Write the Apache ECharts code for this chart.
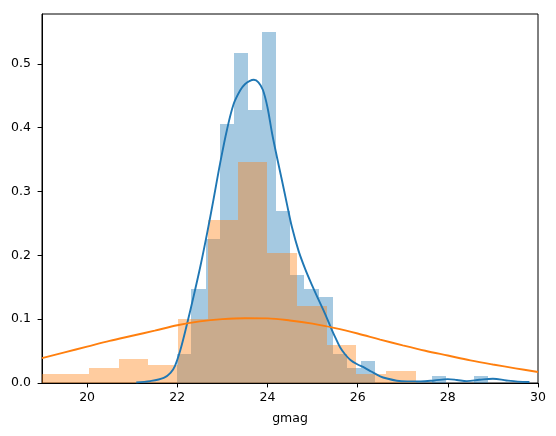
<!DOCTYPE html>
<html>
<head>
<meta charset="utf-8">
<script src="https://cdn.jsdelivr.net/npm/echarts@6/dist/echarts.min.js"></script>
<style>
  html, body { margin: 0; padding: 0; background: #fff; }
  #chart { width: 556px; height: 436px; }
</style>
</head>
<body>
<div id="chart"></div>
<script>
// blue histogram (bin edges + density per bin)
var blueEdges = [22.00, 22.31, 22.63, 22.94, 23.25, 23.57, 23.88, 24.20, 24.51, 24.82, 25.14, 25.45,
                 25.76, 26.08, 26.39, 26.70, 27.02, 27.33, 27.65, 27.96, 28.27, 28.59, 28.90];
var blueHeights = [0.046, 0.147, 0.225, 0.405, 0.517, 0.427, 0.550, 0.270, 0.169, 0.147, 0.135,
                   0.0455, 0.024, 0.035, 0, 0, 0, 0, 0.011, 0, 0, 0.011];

// orange histogram
var orangeEdges = [18.73, 19.39, 20.05, 20.71, 21.36, 22.02, 22.68, 23.34, 24.00, 24.66, 25.32,
                   25.97, 26.63, 27.29];
var orangeHeights = [0.0145, 0.0145, 0.024, 0.038, 0.0286, 0.100, 0.255, 0.346, 0.203, 0.120,
                     0.0588, 0.0145, 0.0192];

// blue kde curve
var blueKdeX = [21.09, 21.40, 21.70, 21.85, 21.95, 22.07, 22.215, 22.36, 22.51, 22.66, 22.80, 22.95,
                23.10, 23.25, 23.40, 23.50, 23.60, 23.70, 23.80, 23.90, 24.00, 24.10, 24.21, 24.32,
                24.43, 24.54, 24.69, 24.84, 24.99, 25.13, 25.28, 25.43, 25.52, 25.61, 25.72, 25.84,
                26.00, 26.15, 26.30, 26.50, 26.65, 26.87, 27.10, 27.40, 27.70, 28.00, 28.20, 28.42,
                28.70, 29.00, 29.30, 29.55, 29.81];
var blueKdeY = [0.001, 0.003, 0.008, 0.016, 0.027, 0.052, 0.092, 0.135, 0.182, 0.234, 0.286, 0.344,
                0.396, 0.437, 0.459, 0.468, 0.473, 0.475, 0.471, 0.459, 0.432, 0.392, 0.354, 0.318,
                0.281, 0.245, 0.207, 0.178, 0.153, 0.131, 0.108, 0.083, 0.069, 0.056, 0.045, 0.036,
                0.029, 0.024, 0.018, 0.0105, 0.007, 0.0036, 0.0026, 0.0025, 0.004, 0.006, 0.0048, 0.003,
                0.005, 0.0067, 0.004, 0.0022, 0.0016];

// orange fitted curve
var orangeFitX = [19.0, 19.5, 20.0, 20.5, 21.0, 21.5, 22.0, 22.5, 23.0, 23.5, 24.0, 24.5, 25.0,
                  25.5, 26.0, 26.5, 27.0, 27.5, 28.0, 28.5, 29.0, 29.5, 30.0];
var orangeFitY = [0.039, 0.048, 0.057, 0.066, 0.074, 0.082, 0.0905, 0.0965, 0.1, 0.1015, 0.1012,
                  0.098, 0.093, 0.086, 0.0775, 0.068, 0.059, 0.0505, 0.043, 0.0355, 0.029, 0.023, 0.0172];

var xTicks = [20, 22, 24, 26, 28, 30];
var yTicks = [0, 0.1, 0.2, 0.3, 0.4, 0.5];

function histData(edges, heights) {
  var out = [];
  for (var i = 0; i < heights.length; i++) {
    out.push([edges[i], edges[i + 1], heights[i]]);
  }
  return out;
}

function pairs(xs, ys) {
  return xs.map(function (x, i) { return [x, ys[i]]; });
}

function histRender(fill) {
  return function (params, api) {
    var p0 = api.coord([api.value(0), api.value(2)]);
    var p1 = api.coord([api.value(1), 0]);
    var x0 = Math.round(p0[0]), x1 = Math.round(p1[0]);
    var y0 = Math.round(p0[1]), y1 = Math.round(p1[1]);
    var rect = echarts.graphic.clipRectByRect(
      { x: x0, y: y0, width: x1 - x0, height: y1 - y0 },
      { x: params.coordSys.x, y: params.coordSys.y, width: params.coordSys.width, height: params.coordSys.height }
    );
    return rect && { type: 'rect', shape: rect, style: { fill: fill } };
  };
}

var font = 'DejaVu Sans';
var chart = echarts.init(document.getElementById('chart'), null, { renderer: 'canvas' });

chart.setOption({
  animation: false,
  grid: {
    left: 42, right: 18, top: 14, bottom: 53,
    show: true, borderColor: '#000', borderWidth: 1
  },
  xAxis: {
    type: 'value',
    min: 19, max: 30,
    name: 'gmag',
    nameLocation: 'middle',
    nameGap: 29,
    nameTextStyle: { fontFamily: font, fontSize: 12.5, color: '#000' },
    axisLine: { show: true, lineStyle: { color: '#000', width: 1 } },
    axisTick: { show: true, inside: false, length: 4.4, lineStyle: { color: '#000' }, customValues: xTicks },
    axisLabel: { fontFamily: font, fontSize: 12.5, color: '#000', margin: 8, customValues: xTicks },
    splitLine: { show: false }
  },
  yAxis: {
    type: 'value',
    min: 0, max: 0.578,
    axisLine: { show: true, lineStyle: { color: '#000', width: 1 } },
    axisTick: { show: true, inside: false, length: 4.4, lineStyle: { color: '#000' }, customValues: yTicks },
    axisLabel: {
      fontFamily: font, fontSize: 12.5, color: '#000', margin: 11, customValues: yTicks,
      formatter: function (v) { return v.toFixed(1); }
    },
    splitLine: { show: false }
  },
  series: [
    {
      type: 'custom',
      renderItem: histRender('rgba(31,119,180,0.4)'),
      encode: { x: [0, 1], y: 2 },
      data: histData(blueEdges, blueHeights),
      z: 1, silent: true
    },
    {
      type: 'custom',
      renderItem: histRender('rgba(255,127,14,0.4)'),
      encode: { x: [0, 1], y: 2 },
      data: histData(orangeEdges, orangeHeights),
      z: 1, silent: true
    },
    {
      type: 'line',
      data: pairs(blueKdeX, blueKdeY),
      showSymbol: false, smooth: 0.35,
      lineStyle: { color: '#1f77b4', width: 1.9 },
      z: 3, silent: true
    },
    {
      type: 'line',
      data: pairs(orangeFitX, orangeFitY),
      showSymbol: false, smooth: 0.35,
      lineStyle: { color: '#ff7f0e', width: 1.9 },
      z: 3, silent: true
    }
  ]
});
</script>
</body>
</html>
